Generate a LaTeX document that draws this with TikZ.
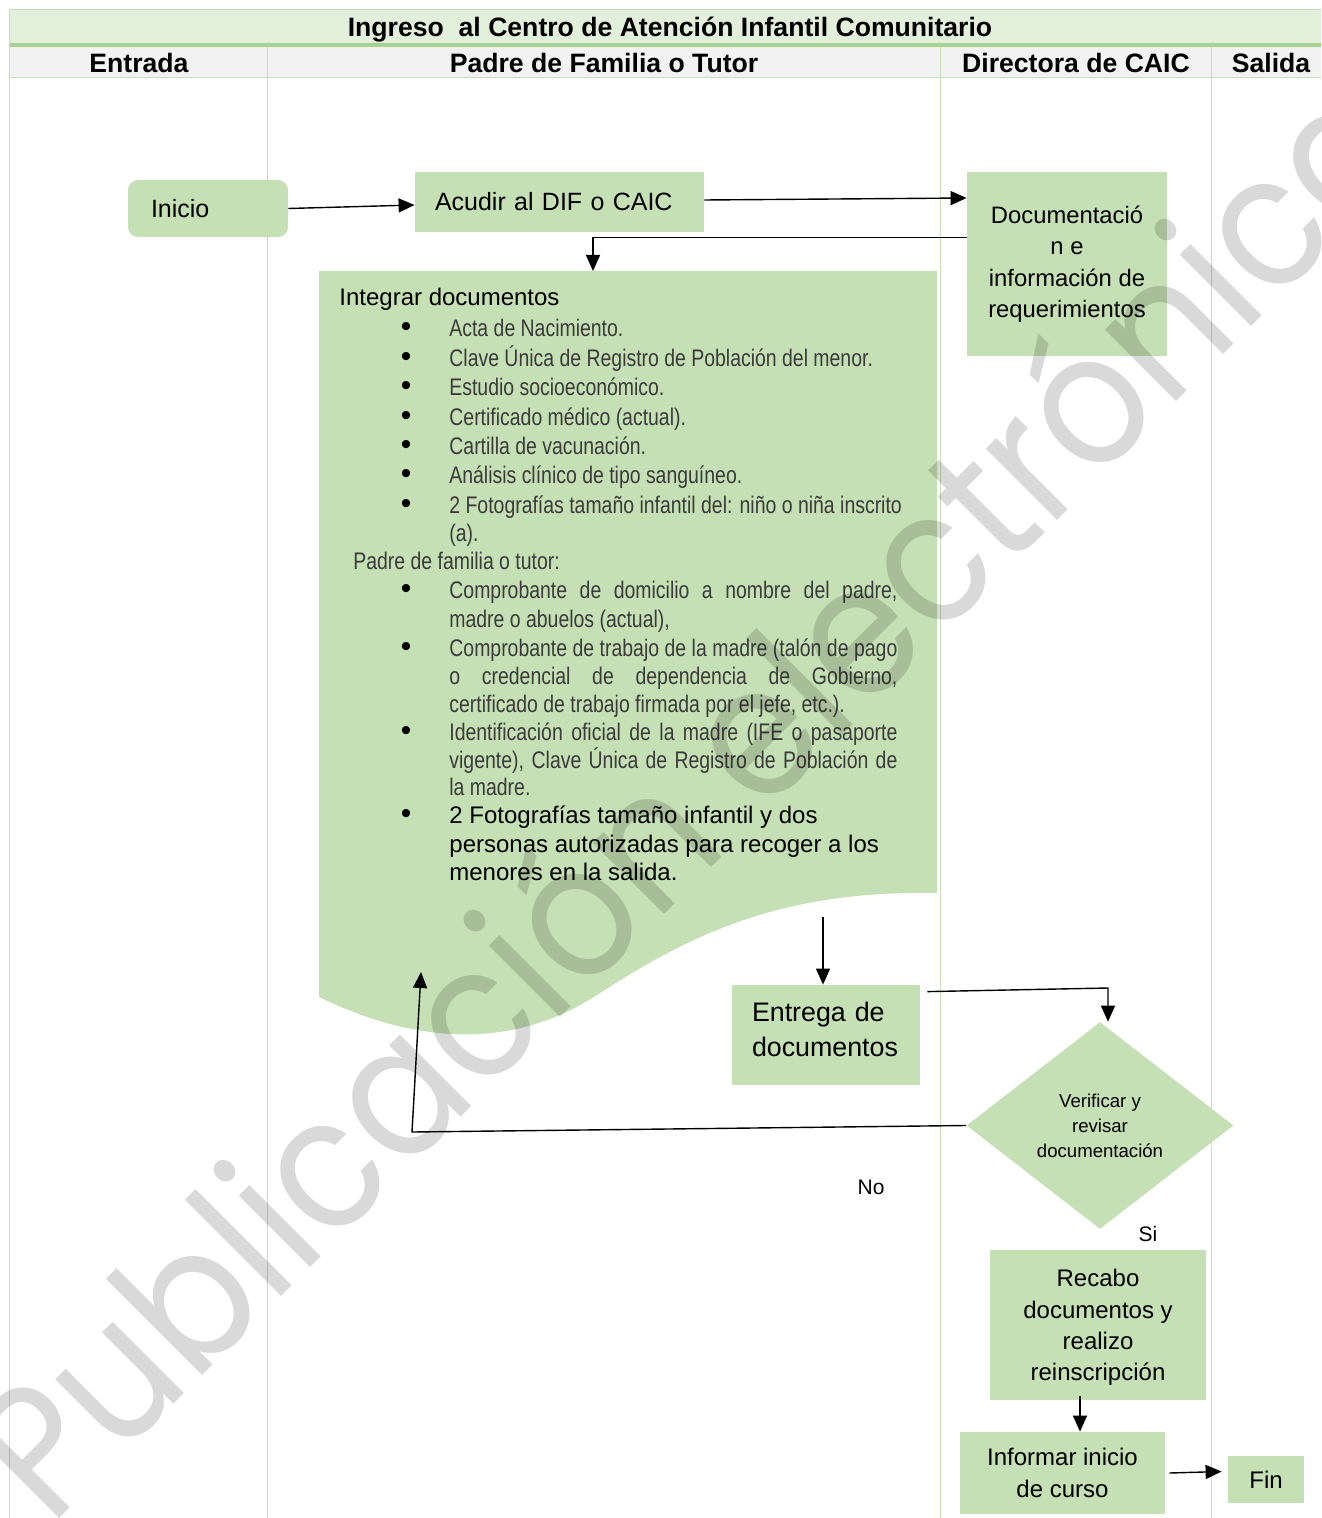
\documentclass[tikz,border=0pt]{standalone}
\usepackage{fontspec}
\setmainfont{Liberation Sans}
\newfontfamily\narrowfont{Liberation Sans}[FakeStretch=0.81]
\newfontfamily\markfont{Poppins}[FakeStretch=0.90]
\usetikzlibrary{shapes.geometric,arrows.meta}
\definecolor{boxgreen}{HTML}{C5E0B4}
\definecolor{titlefill}{HTML}{E2EFDA}
\definecolor{headfill}{HTML}{F2F2F2}
\definecolor{laneline}{HTML}{C5E0B4}
\definecolor{rulegreen}{HTML}{A9D18E}
\definecolor{narrowgray}{HTML}{3B3B3B}
\begin{document}
\begin{tikzpicture}[x=0.5pt,y=-0.5pt,
  flowbox/.style={fill=boxgreen, draw=none, inner sep=0pt, align=center},
  conn/.style={draw=black, line width=0.7pt, -{Triangle[length=8pt,width=7pt]}},
  lane/.style={draw=laneline, line width=0.5pt},
  headtxt/.style={anchor=base, inner sep=0pt, font=\bfseries\fontsize{13.3}{15}\selectfont},
  nar/.style={anchor=base west, inner sep=0pt, text=narrowgray, font=\narrowfont\fontsize{12}{14}\selectfont},
  reg/.style={anchor=base west, inner sep=0pt, font=\fontsize{12}{14}\selectfont},
  bul/.style={anchor=base, inner sep=0pt, font=\fontsize{15}{14}\selectfont}]

\useasboundingbox (0,0) rectangle (1321,1518);

% ---- swimlane frame ----
\fill[titlefill] (9,10) rectangle (1321,45);
\draw[lane] (9,10) -- (1321,10);
\fill[headfill] (9,47) rectangle (1321,78);
\draw[rulegreen, line width=2pt] (9,45) -- (1321,45);
\draw[lane] (9,78) -- (1321,78);
\draw[lane] (9,10) -- (9,1518);
\foreach \lx in {267,940,1211} \draw[lane] (\lx,47) -- (\lx,1518);

\node[headtxt] (title) at (670,36.5) {Ingreso\ \ al Centro de Atención Infantil Comunitario};
\node[headtxt] (h1) at (139,72.5) {Entrada};
\node[headtxt] (h2) at (604,72.5) {Padre de Familia o Tutor};
\node[headtxt] (h3) at (1076,72.5) {Directora de CAIC};
\node[headtxt] (h4) at (1271,72.5) {Salida};

% ---- document shape ----
\fill[boxgreen] (319,271) -- (937,271) -- (937,893)
  .. controls (780,890) and (690,935) .. (600,993)
  .. controls (516,1049) and (420,1046) .. (319,997) -- cycle;
\coordinate (intop) at (593,271);
\coordinate (docbot) at (823,917);

\node[reg] (t0) at (339,306) {Integrar documentos};
\foreach \by in {337,367,396,425,454,483,513,598,656,740,823}
  \node[bul] at (406,\by) {•};
\node[nar] (a1) at (449,337) {Acta de Nacimiento.};
\node[nar] (a2) at (449,367) {Clave Única de Registro de Población del menor.};
\node[nar] (a3) at (449,396) {Estudio socioeconómico.};
\node[nar] (a4) at (449,425) {Certificado médico (actual).};
\node[nar] (a5) at (449,454) {Cartilla de vacunación.};
\node[nar] (a6) at (449,483) {Análisis clínico de tipo sanguíneo.};
\node[nar] (a7) at (449,513) {2 Fotografías tamaño infantil del: niño o niña inscrito};
\node[nar] (a8) at (449,541) {(a).};
\node[nar] (p0) at (353,569) {Padre de familia o tutor:};
\node[nar] (b1) at (449,598) {\makebox[224pt][s]{Comprobante de domicilio a nombre del padre,}};
\node[nar] (b2) at (449,627) {madre o abuelos (actual),};
\node[nar] (b3) at (449,656) {\makebox[224pt][s]{Comprobante de trabajo de la madre (talón de pago}};
\node[nar] (b4) at (449,684) {\makebox[224pt][s]{o credencial de dependencia de Gobierno,}};
\node[nar] (b5) at (449,712) {certificado de trabajo firmada por el jefe, etc.).};
\node[nar] (b6) at (449,740) {\makebox[224pt][s]{Identificación oficial de la madre (IFE o pasaporte}};
\node[nar] (b7) at (449,768) {\makebox[224pt][s]{vigente), Clave Única de Registro de Población de}};
\node[nar] (b8) at (449,795) {la madre.};
\node[reg] (c1) at (449,823) {2 Fotografías tamaño infantil y dos};
\node[reg] (c2) at (449,852) {personas autorizadas para recoger a los};
\node[reg] (c3) at (449,880) {menores en la salida.};

% ---- process boxes ----
\node[flowbox, rounded corners=5pt, minimum width=80pt, minimum height=28.5pt,
      text width=57pt, inner xsep=11.5pt, align=left, font=\fontsize{12.5}{14}\selectfont]
      (inicio) at (208,208.5) {Inicio};
\node[flowbox, minimum width=140.5pt, minimum height=30pt, text width=124.5pt, inner xsep=10pt,
      align=left, font=\fontsize{12.5}{14}\selectfont]
      (acudir) at (559.5,202) {Acudir al DIF o CAIC};
\node[flowbox, minimum width=100pt, minimum height=92pt, font=\fontsize{11.9}{15.75}\selectfont]
      (docu) at (1067,264) {Documentació\\n e\\información de\\requerimientos};
\node[flowbox, minimum width=94pt, minimum height=50pt] (entrega) at (826,1035) {};
\node[inner sep=0pt, text width=74pt, align=left, font=\fontsize{13.4}{17.5}\selectfont]
      (entregatxt) at ([yshift=3pt]entrega.center) {\makebox[74pt][s]{Entrega de}\\documentos};
\node[flowbox, diamond, minimum width=133.5pt, minimum height=103.5pt,
      font=\fontsize{9.3}{12.5}\selectfont]
      (diam) at (1100,1125.5) {Verificar y\\revisar\\documentación};
\node[flowbox, minimum width=108pt, minimum height=75pt, text depth=-2pt, font=\fontsize{12}{15.65}\selectfont]
      (recabo) at (1098,1325) {Recabo\\documentos y\\realizo\\reinscripción};
\node[flowbox, minimum width=102.5pt, minimum height=41pt, font=\fontsize{12}{16}\selectfont]
      (informar) at (1062.5,1473) {Informar inicio\\de curso};
\node[flowbox, minimum width=38pt, minimum height=23.5pt, font=\fontsize{12}{14}\selectfont]
      (fin) at (1266,1479.5) {Fin};

\node[anchor=base, inner sep=0pt, font=\fontsize{10.5}{12}\selectfont] (no) at (871,1194) {No};
\node[anchor=base, inner sep=0pt, font=\fontsize{10.5}{12}\selectfont] (si) at (1148,1241) {Si};

% ---- connectors ----
\coordinate (c5) at (1108,988);
\coordinate (c6a) at (412,1132);
\coordinate (c6b) at (421,972);
\draw[conn] (inicio.east) -- ([yshift=-1.5pt]acudir.west);
\draw[conn] ([yshift=1pt]acudir.east) -- ([yshift=2pt]acudir.east -| docu.west);
\draw[conn] ([yshift=-33pt]docu.north west) -| (intop);
\draw[conn] (docbot) -- (docbot |- entrega.north);
\draw[conn] ([shift={(3.5pt,-3.5pt)}]entrega.north east) -- (c5) -- (c5 |- diam.north);
\draw[conn] (diam.west) -- (c6a) -- (c6b);
\draw[conn] ([xshift=-9pt,yshift=2pt]recabo.south) -- ([xshift=-9pt]recabo.south |- informar.north);
\draw[conn] ([xshift=2pt]informar.east) -- ([xshift=-3pt,yshift=4pt]fin.west);

% ---- watermark ----
\node[rotate=45, anchor=base, inner sep=0pt, text=black, text opacity=0.15,
      font=\markfont\fontsize{92}{92}\selectfont] (wm) at (736,842) {Publicación electrónica};
\end{tikzpicture}
\end{document}
